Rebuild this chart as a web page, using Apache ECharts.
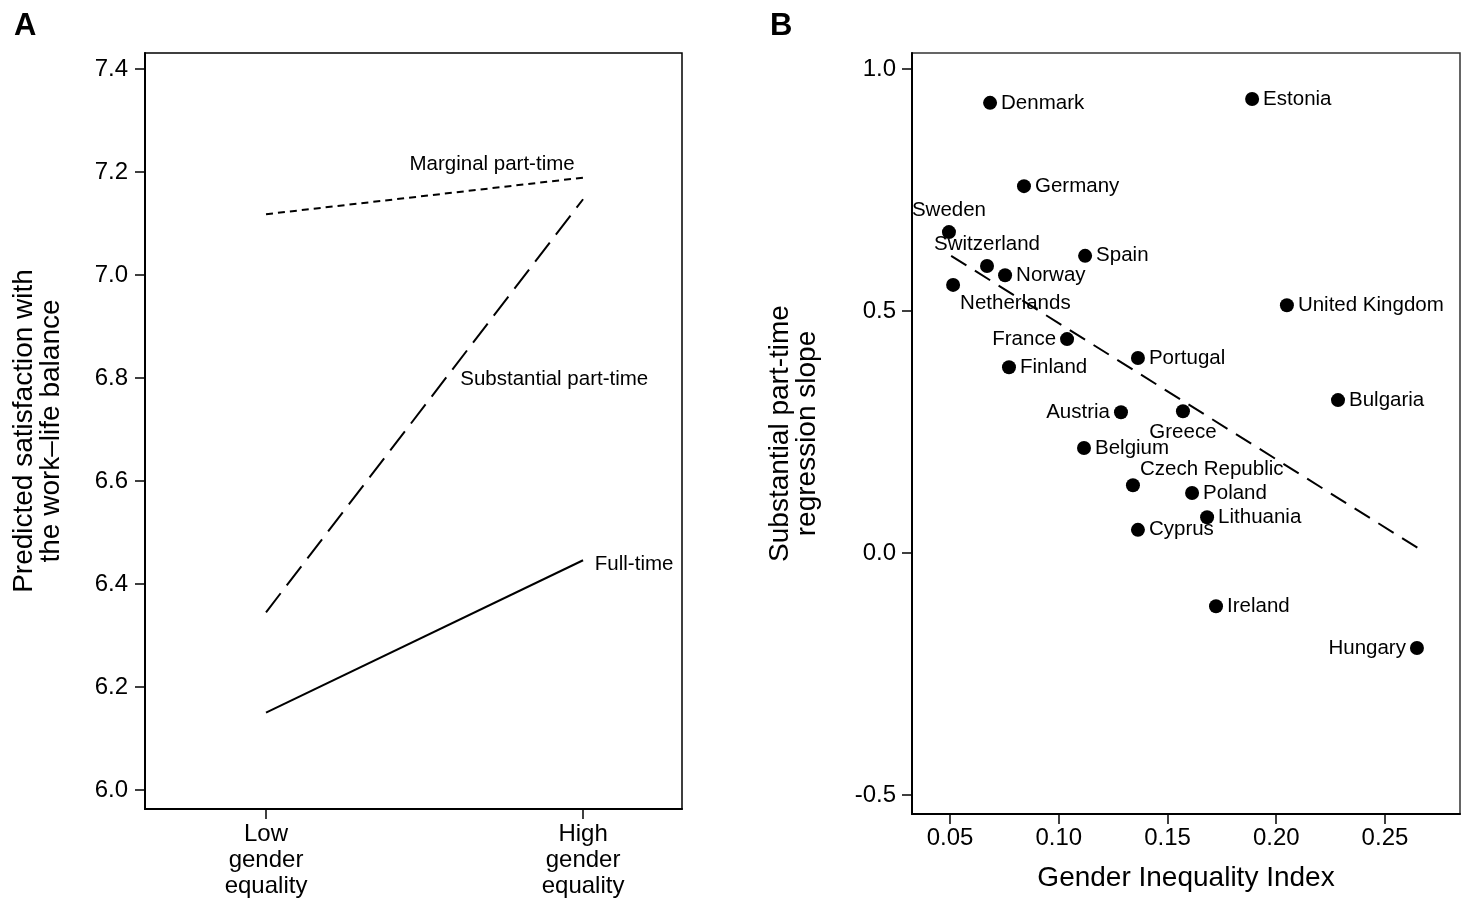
<!DOCTYPE html>
<html><head><meta charset="utf-8">
<script src="https://cdn.jsdelivr.net/npm/echarts@6/dist/echarts.min.js"></script>
<style>html,body{margin:0;padding:0;background:#fff}#c{width:1470px;height:901px}</style>
</head><body><div id="c"></div>
<script>
// ---------- Panel A data ----------
const conditionCategories = ['Low\ngender\nequality', 'High\ngender\nequality'];
const marginalPT = [7.118, 7.189];
const substantialPT = [6.345, 7.147];
const fullTime = [6.150, 6.446];
const lineLabels = ['Marginal part-time', 'Substantial part-time', 'Full-time'];
const lineLabelX = [0.713, 0.909, 1.161];
const lineLabelY = [7.214, 6.798, 6.439];
const yTicksA = [6.0, 6.2, 6.4, 6.6, 6.8, 7.0, 7.2, 7.4];

// ---------- Panel B data ----------
const countries = ['Denmark','Estonia','Germany','Sweden','Switzerland','Norway','Spain','Netherlands',
  'United Kingdom','France','Portugal','Finland','Austria','Greece','Bulgaria','Belgium',
  'Czech Republic','Poland','Lithuania','Cyprus','Ireland','Hungary'];
const gii = [0.0684,0.1889,0.0840,0.0495,0.0670,0.0753,0.1121,0.0514,
  0.2049,0.1038,0.1364,0.0771,0.1286,0.1571,0.2284,0.1116,
  0.1341,0.1613,0.1682,0.1364,0.1723,0.2647];
const slope = [0.930,0.938,0.758,0.663,0.593,0.574,0.614,0.554,
  0.512,0.442,0.403,0.384,0.291,0.293,0.316,0.217,
  0.140,0.124,0.074,0.048,-0.110,-0.196];
const fitX = [0.0505, 0.2652];
const fitY = [0.614, 0.0103];
const xTicksB = [0.05, 0.10, 0.15, 0.20, 0.25];
const yTicksB = [-0.5, 0.0, 0.5, 1.0];

// label placement (style only)
const labelPlace = {
  'Sweden': {position: 'top', distance: 4},
  'Switzerland': {position: 'top', distance: 4},
  'Netherlands': {position: 'right', offset: [-4, 18]},
  'France': {position: 'left'},
  'Austria': {position: 'left'},
  'Greece': {position: 'bottom', distance: 4},
  'Czech Republic': {position: 'right', offset: [-4, -16]},
  'Hungary': {position: 'left'}
};

const FONT = '"Liberation Sans", Arial, sans-serif';
const black = '#000';

const chart = echarts.init(document.getElementById('c'), null, {renderer: 'canvas'});

function axisCommon() {
  return {
    axisLine: {show: true, onZero: false, lineStyle: {color: black, width: 2}},
    axisTick: {show: true, inside: false, length: 10, lineStyle: {color: black, width: 1.5}},
    splitLine: {show: false},
    axisLabel: {color: black, fontFamily: FONT, fontSize: 24}
  };
}

const pointData = countries.map((n, i) => {
  const p = labelPlace[n] || {position: 'right'};
  return {
    value: [gii[i], slope[i]],
    name: n,
    label: Object.assign({show: true, color: black, opacity: 1}, p)
  };
});

const option = {
  animation: false,
  backgroundColor: '#fff',
  textStyle: {fontFamily: FONT},
  title: [
    {text: 'A', left: 9, top: 6, textStyle: {fontFamily: FONT, fontSize: 31, fontWeight: 'bold', color: black}},
    {text: 'B', left: 765, top: 6, textStyle: {fontFamily: FONT, fontSize: 31, fontWeight: 'bold', color: black}}
  ],
  grid: [
    {left: 145, top: 53, width: 537, height: 756, show: true, borderColor: black, borderWidth: 1.5, backgroundColor: 'transparent'},
    {left: 912, top: 53, width: 548, height: 761, show: true, borderColor: '#333', borderWidth: 1.5, backgroundColor: 'transparent'}
  ],
  xAxis: [
    Object.assign(axisCommon(), {
      type: 'value', gridIndex: 0, min: -0.3817, max: 1.312,
      axisTick: {show: true, length: 10, customValues: [0, 1], lineStyle: {color: black, width: 1.5}},
      axisLabel: {color: black, fontFamily: FONT, fontSize: 24, lineHeight: 26, margin: 12,
        customValues: [0, 1], formatter: v => conditionCategories[Math.round(v)]}
    }),
    Object.assign(axisCommon(), {
      type: 'value', gridIndex: 1, min: 0.0325, max: 0.2845,
      name: 'Gender Inequality Index', nameLocation: 'middle', nameGap: 50,
      nameTextStyle: {color: black, fontFamily: FONT, fontSize: 28},
      axisTick: {show: true, length: 10, customValues: xTicksB, lineStyle: {color: black, width: 1.5}},
      axisLabel: {color: black, fontFamily: FONT, fontSize: 24, margin: 12,
        customValues: xTicksB, formatter: v => v.toFixed(2)}
    })
  ],
  yAxis: [
    Object.assign(axisCommon(), {
      type: 'value', gridIndex: 0, min: 5.963, max: 7.431,
      name: 'Predicted satisfaction with\nthe work\u2013life balance', nameLocation: 'middle', nameGap: 80, nameRotate: 90,
      nameTextStyle: {color: black, fontFamily: FONT, fontSize: 28, lineHeight: 27},
      axisTick: {show: true, length: 10, customValues: yTicksA, lineStyle: {color: black, width: 1.5}},
      axisLabel: {color: black, fontFamily: FONT, fontSize: 24, margin: 17,
        customValues: yTicksA, formatter: v => v.toFixed(1)}
    }),
    Object.assign(axisCommon(), {
      type: 'value', gridIndex: 1, min: -0.539, max: 1.033,
      name: 'Substantial part-time\nregression slope', nameLocation: 'middle', nameGap: 91, nameRotate: 90,
      nameTextStyle: {color: black, fontFamily: FONT, fontSize: 28, lineHeight: 27},
      axisTick: {show: true, length: 10, customValues: yTicksB, lineStyle: {color: black, width: 1.5}},
      axisLabel: {color: black, fontFamily: FONT, fontSize: 24, margin: 16,
        customValues: yTicksB, formatter: v => v.toFixed(1)}
    })
  ],
  series: [
    {type: 'line', xAxisIndex: 0, yAxisIndex: 0, showSymbol: false, silent: true,
      data: marginalPT.map((v, i) => [i, v]),
      lineStyle: {color: black, width: 2, type: [7, 5]}},
    {type: 'line', xAxisIndex: 0, yAxisIndex: 0, showSymbol: false, silent: true,
      data: substantialPT.map((v, i) => [i, v]),
      lineStyle: {color: black, width: 2, type: [24, 10]}},
    {type: 'line', xAxisIndex: 0, yAxisIndex: 0, showSymbol: false, silent: true,
      data: fullTime.map((v, i) => [i, v]),
      lineStyle: {color: black, width: 2}},
    {type: 'scatter', xAxisIndex: 0, yAxisIndex: 0, symbolSize: 0, silent: true,
      itemStyle: {color: black, opacity: 1},
      data: lineLabels.map((t, i) => ({value: [lineLabelX[i], lineLabelY[i]], name: t})),
      label: {show: true, position: 'inside', formatter: p => p.name, color: black, opacity: 1, fontFamily: FONT, fontSize: 20.5}},
    {type: 'line', xAxisIndex: 1, yAxisIndex: 1, showSymbol: false, silent: true,
      data: fitX.map((x, i) => [x, fitY[i]]),
      lineStyle: {color: black, width: 2, type: [18, 10]}},
    {type: 'scatter', xAxisIndex: 1, yAxisIndex: 1, symbol: 'circle', symbolSize: 14, silent: true,
      itemStyle: {color: black, opacity: 1},
      data: pointData,
      label: {show: true, formatter: p => p.name, color: black, opacity: 1, fontFamily: FONT, fontSize: 20.5, distance: 4}}
  ]
};
chart.setOption(option);
</script>
</body></html>
